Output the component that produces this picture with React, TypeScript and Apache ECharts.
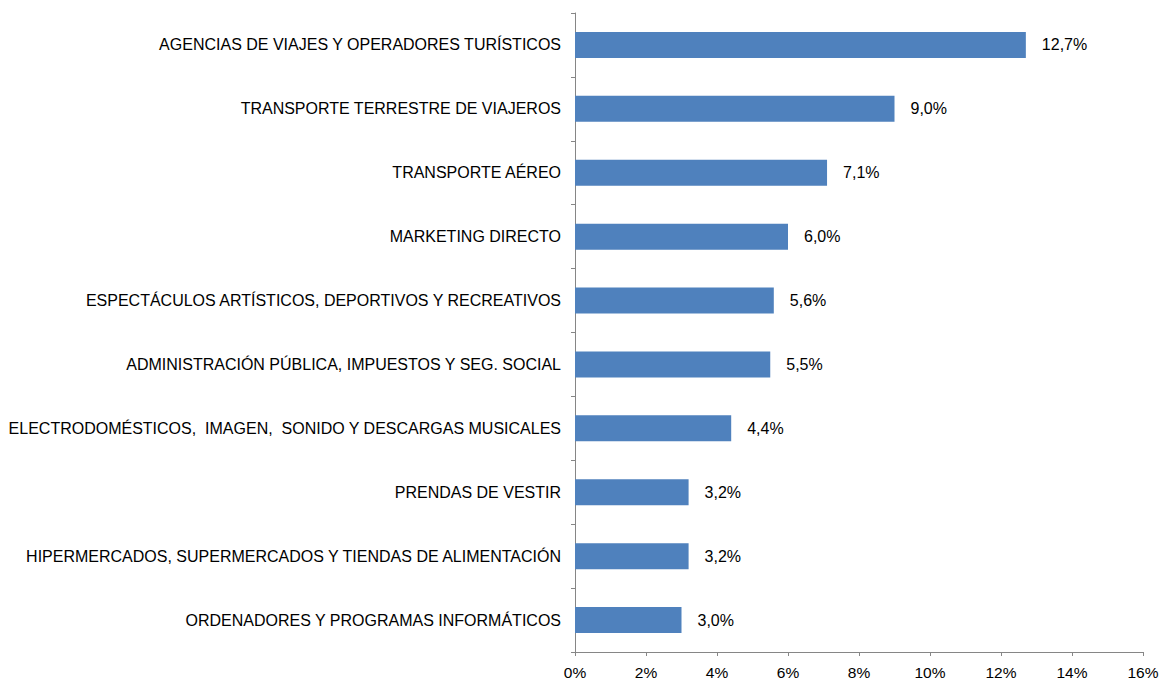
import React, { useEffect, useRef } from "react";
import * as echarts from "echarts";

const categories = [
  "AGENCIAS DE VIAJES Y OPERADORES TURÍSTICOS",
  "TRANSPORTE TERRESTRE DE VIAJEROS",
  "TRANSPORTE AÉREO",
  "MARKETING DIRECTO",
  "ESPECTÁCULOS ARTÍSTICOS, DEPORTIVOS Y RECREATIVOS",
  "ADMINISTRACIÓN PÚBLICA, IMPUESTOS Y SEG. SOCIAL",
  "ELECTRODOMÉSTICOS,  IMAGEN,  SONIDO Y DESCARGAS MUSICALES",
  "PRENDAS DE VESTIR",
  "HIPERMERCADOS, SUPERMERCADOS Y TIENDAS DE ALIMENTACIÓN",
  "ORDENADORES Y PROGRAMAS INFORMÁTICOS",
];
const values = [12.7, 9.0, 7.1, 6.0, 5.6, 5.5, 4.4, 3.2, 3.2, 3.0];

const FONT = "'Liberation Sans', Arial, sans-serif";

export default function App() {
  const ref = useRef<HTMLDivElement>(null);
  useEffect(() => {
    if (!ref.current) return;
    const chart = echarts.init(ref.current, undefined, { renderer: "svg" });
    chart.setOption({
      animation: false,
      backgroundColor: "#ffffff",
      grid: { left: 575, right: 25, top: 13, bottom: 27, containLabel: false },
      xAxis: {
        type: "value",
        min: 0,
        max: 16,
        interval: 2,
        splitLine: { show: false },
        axisLine: { show: true, lineStyle: { color: "#868686", width: 1 } },
        axisTick: { show: true, length: 4, lineStyle: { color: "#868686" } },
        axisLabel: {
          formatter: (v: number) => `${v}%`,
          color: "#000000",
          fontSize: 15.5,
          fontFamily: FONT,
          margin: 12,
        },
      },
      yAxis: {
        type: "category",
        data: categories,
        inverse: true,
        axisLine: { show: true, lineStyle: { color: "#868686", width: 1 } },
        axisTick: { show: true, length: 4, lineStyle: { color: "#868686" } },
        axisLabel: {
          color: "#000000",
          fontSize: 16,
          fontFamily: FONT,
          margin: 14,
        },
      },
      series: [
        {
          type: "bar",
          data: values,
          barWidth: 26,
          itemStyle: { color: "#4F81BD" },
          label: {
            show: true,
            position: "right",
            distance: 16,
            formatter: (p: any) => `${p.value.toFixed(1).replace(".", ",")}%`,
            color: "#000000",
            fontSize: 16,
            fontFamily: FONT,
          },
        },
      ],
    });
    return () => chart.dispose();
  }, []);
  return (
    <div
      ref={ref}
      style={{ position: "fixed", left: 0, top: 0, width: 1168, height: 680 }}
    />
  );
}
